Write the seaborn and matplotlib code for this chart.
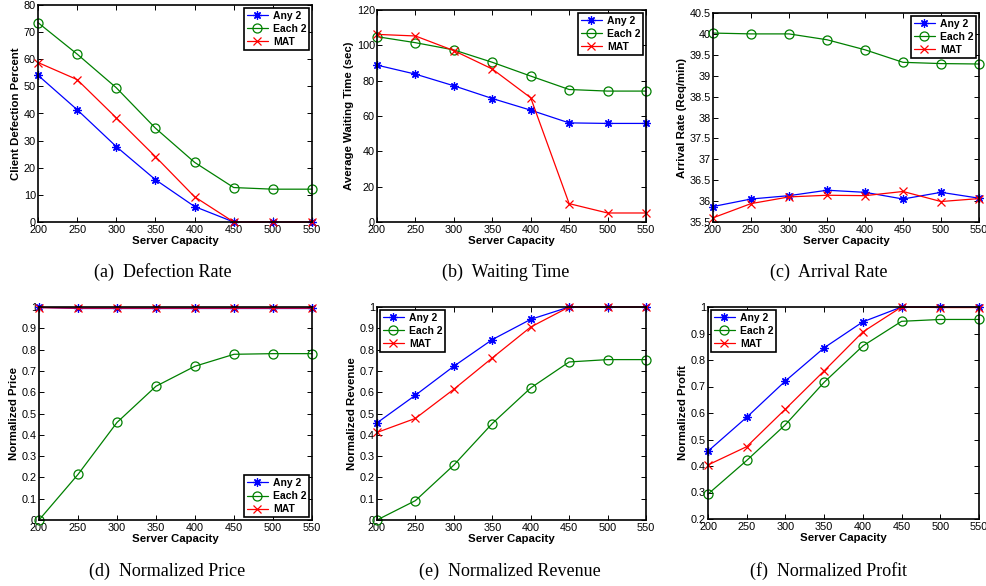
import matplotlib
matplotlib.use("Agg")
import numpy as np
import pandas as pd
import matplotlib.pyplot as plt
import seaborn as sns

# ---------------- data ----------------
capacity = [200, 250, 300, 350, 400, 450, 500, 550]
series_names = ["Any 2", "Each 2", "MAT"]

defect_any2 = [54.1, 41.4, 27.8, 15.6, 5.7, 0.0, 0.0, 0.0]
defect_each2 = [73.5, 61.9, 49.5, 34.6, 22.0, 12.7, 12.1, 12.1]
defect_mat = [58.8, 52.5, 38.4, 24.1, 9.3, 0.0, 0.0, 0.0]

wait_any2 = [88.8, 83.7, 77.1, 69.9, 63.3, 56.1, 55.8, 55.8]
wait_each2 = [104.9, 101.5, 97.4, 90.4, 82.6, 75.0, 74.1, 74.1]
wait_mat = [106.2, 105.3, 97.0, 86.6, 70.3, 10.4, 5.1, 5.1]

arrival_any2 = [35.87, 36.05, 36.13, 36.26, 36.21, 36.05, 36.21, 36.07]
arrival_each2 = [40.02, 40.0, 40.0, 39.86, 39.62, 39.32, 39.29, 39.28]
arrival_mat = [35.60, 35.94, 36.10, 36.14, 36.13, 36.23, 35.99, 36.06]

price_any2 = [0.998, 0.993, 0.993, 0.993, 0.993, 0.993, 0.993, 0.993]
price_each2 = [0.0, 0.214, 0.458, 0.628, 0.722, 0.778, 0.781, 0.781]
price_mat = [0.997, 0.995, 0.995, 0.995, 0.995, 0.995, 0.995, 0.995]

revenue_any2 = [0.456, 0.586, 0.722, 0.847, 0.942, 1.0, 1.0, 1.0]
revenue_each2 = [0.0, 0.091, 0.258, 0.453, 0.620, 0.742, 0.753, 0.753]
revenue_mat = [0.411, 0.477, 0.614, 0.761, 0.906, 1.0, 1.0, 1.0]

profit_any2 = [0.456, 0.584, 0.721, 0.846, 0.944, 1.0, 1.0, 1.0]
profit_each2 = [0.294, 0.421, 0.556, 0.716, 0.853, 0.946, 0.953, 0.953]
profit_mat = [0.404, 0.473, 0.615, 0.759, 0.906, 1.0, 0.998, 0.998]

ylabels = ["Client Defection Percent", "Average Waiting Time (sec)",
           "Arrival Rate (Req/min)", "Normalized Price",
           "Normalized Revenue", "Normalized Profit"]
captions = ["(a)  Defection Rate", "(b)  Waiting Time", "(c)  Arrival Rate",
            "(d)  Normalized Price", "(e)  Normalized Revenue", "(f)  Normalized Profit"]
xticks = [200, 250, 300, 350, 400, 450, 500, 550]

# ---------------- style ----------------
sns.set_style("ticks")
plt.rcParams.update({
    "font.family": ["Liberation Sans", "DejaVu Sans"],
    "axes.edgecolor": "black",
    "axes.linewidth": 1.2,
    "xtick.color": "black",
    "ytick.color": "black",
    "text.color": "black",
    "axes.labelcolor": "black",
})

colors = ["#0000ff", "#008000", "#ff0000"]
markers = [(8, 2, 0), "o", "x"]
msizes = [6.0, 6.5, 5.5]

W, H = 986, 586
fig = plt.figure(figsize=(W / 100, H / 100), dpi=100)


def add_ax(l, t, r, b):
    return fig.add_axes([l / W, 1 - b / H, (r - l) / W, (b - t) / H])


panels = [
    dict(box=(38, 5, 312, 222), data=[defect_any2, defect_each2, defect_mat],
         ylim=(0, 80), yticks=np.arange(0, 81, 10), loc="upper right"),
    dict(box=(377, 10, 646, 222), data=[wait_any2, wait_each2, wait_mat],
         ylim=(0, 120), yticks=np.arange(0, 121, 20), loc="upper right"),
    dict(box=(713, 13, 979, 222), data=[arrival_any2, arrival_each2, arrival_mat],
         ylim=(35.5, 40.5), yticks=np.arange(35.5, 40.51, 0.5), loc="upper right"),
    dict(box=(39, 307, 312, 520), data=[price_any2, price_each2, price_mat],
         ylim=(0, 1), yticks=np.round(np.arange(0, 1.01, 0.1), 1), loc="lower right"),
    dict(box=(377, 307, 646, 520), data=[revenue_any2, revenue_each2, revenue_mat],
         ylim=(0, 1), yticks=np.round(np.arange(0, 1.01, 0.1), 1), loc="upper left"),
    dict(box=(708, 307, 979, 519), data=[profit_any2, profit_each2, profit_mat],
         ylim=(0.2, 1), yticks=np.round(np.arange(0.2, 1.01, 0.1), 1), loc="upper left"),
]
caption_pos = [(163, 272), (506, 272), (829, 272), (167, 571), (510, 571), (829, 571)]

for i, p in enumerate(panels):
    ax = add_ax(*p["box"])
    for name, vals, c, m, ms in zip(series_names, p["data"], colors, markers, msizes):
        df = pd.DataFrame({"capacity": capacity, "value": vals})
        sns.lineplot(data=df, x="capacity", y="value", ax=ax, color=c, marker=m,
                     markersize=ms, markeredgecolor=c, markerfacecolor="none",
                     markeredgewidth=0.9, linewidth=0.9, label=name, clip_on=False)
    ax.set_xlim(200, 550)
    ax.set_ylim(*p["ylim"])
    ax.set_xticks(xticks)
    ax.set_yticks(p["yticks"])
    ax.set_yticklabels(["%g" % v for v in p["yticks"]])
    ax.tick_params(direction="in", top=True, right=True, length=3.5, width=0.7,
                   labelsize=7.8, pad=1.5)
    ax.tick_params(axis="x", pad=2.5)
    ax.set_xlabel("Server Capacity", fontsize=8.2, fontweight="bold", labelpad=0.5)
    ax.set_ylabel(ylabels[i], fontsize=8.2, fontweight="bold", labelpad=2)
    leg = ax.legend(loc=p["loc"], prop={"weight": "bold", "size": 7.5},
                    frameon=True, fancybox=False, edgecolor="black", framealpha=1,
                    borderaxespad=0.25, handlelength=2.0, borderpad=0.3,
                    labelspacing=0.3, handletextpad=0.5)
    leg.get_frame().set_linewidth(1.2)
    cx, cy = caption_pos[i]
    fig.text(cx / W, 1 - cy / H, captions[i], ha="center", va="center",
             family=["Liberation Serif", "DejaVu Serif"], fontsize=13)

fig.savefig("out.png", dpi=100)
